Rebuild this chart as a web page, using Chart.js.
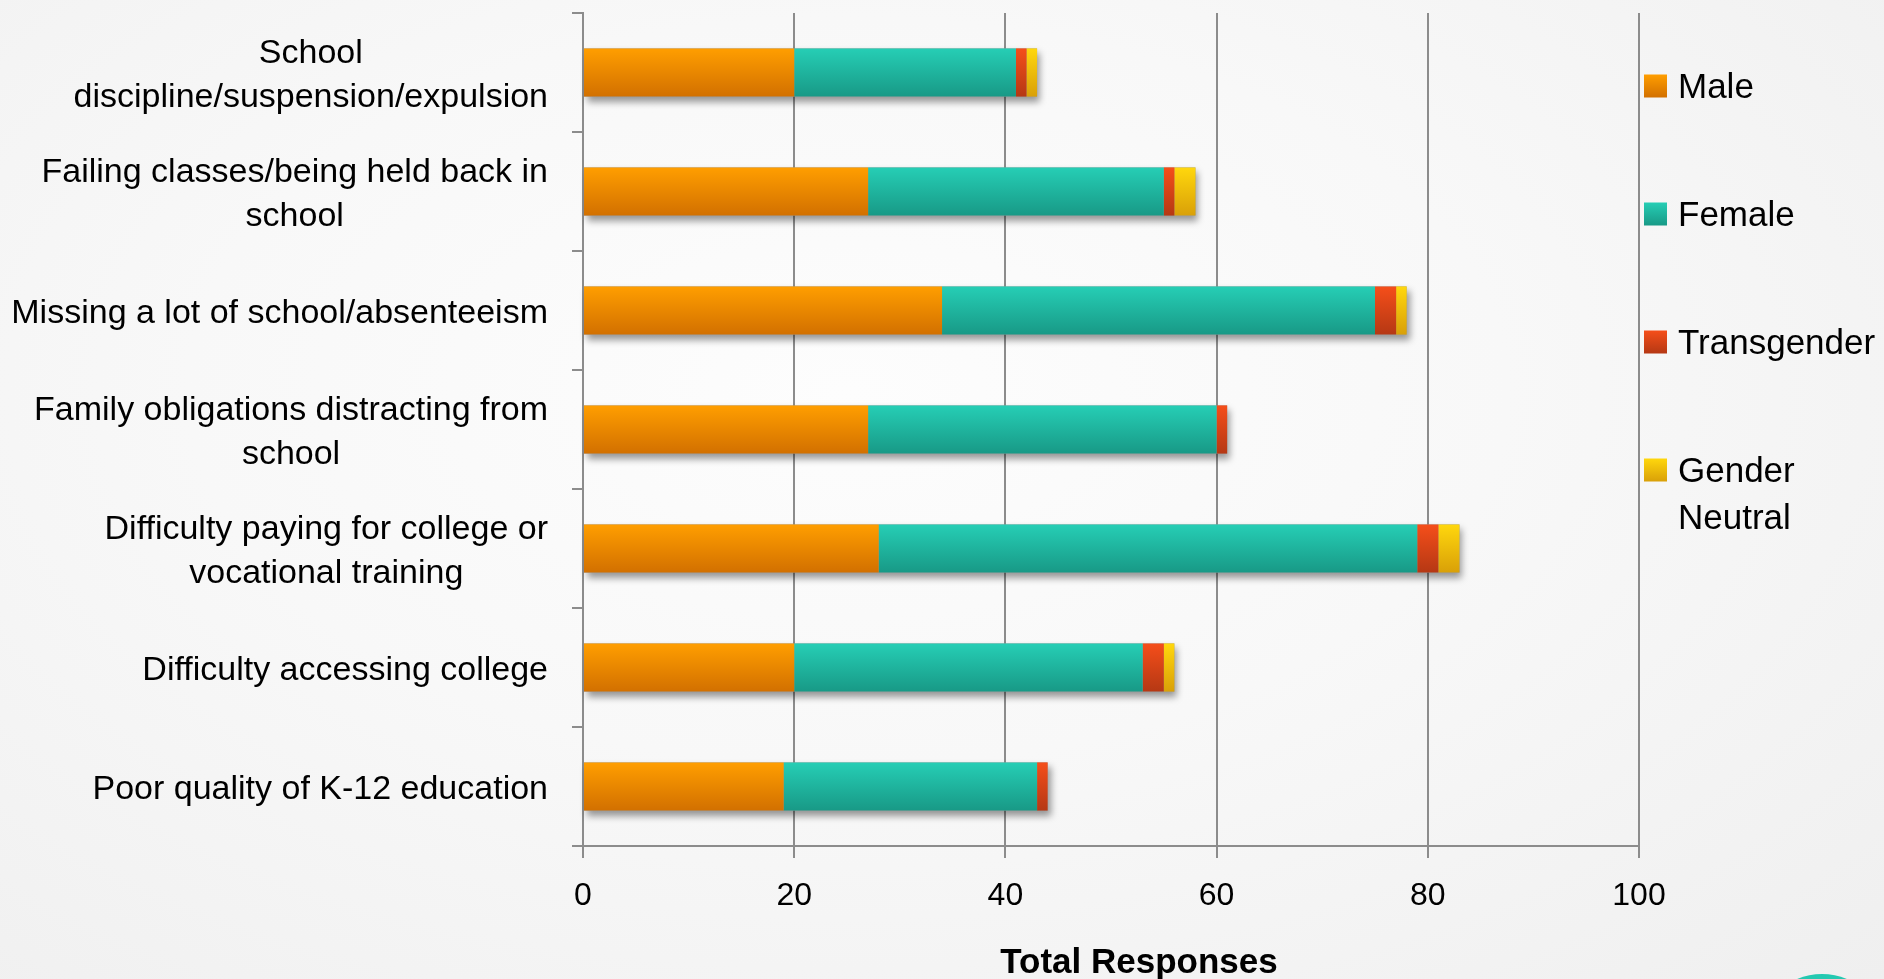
<!DOCTYPE html>
<html>
<head>
<meta charset="utf-8">
<title>Total Responses</title>
<script src="https://cdn.jsdelivr.net/npm/chart.js@4.4.1/dist/chart.umd.min.js"></script>
<style>
  html, body { margin: 0; padding: 0; overflow: hidden; }
  body {
    width: 1884px; height: 979px; position: relative;
    background: radial-gradient(ellipse at 45% 40%, #fdfdfd 0%, #f8f8f8 45%, #efefef 100%);
  }
  #grafico { position: absolute; left: 0; top: 0; }
  .bolinha {
    position: absolute; left: 1757px; top: 974px; width: 130px; height: 130px;
    border-radius: 50%; background: #24c9b1;
  }
</style>
</head>
<body>
<canvas id="grafico" width="1884" height="979"></canvas>
<div class="bolinha"></div>
<script>
// Dados
const categorias = [
  ['School', 'discipline/suspension/expulsion'],
  ['Failing classes/being held back in', 'school'],
  ['Missing a lot of school/absenteeism'],
  ['Family obligations distracting from', 'school'],
  ['Difficulty paying for college or', 'vocational training'],
  ['Difficulty accessing college'],
  ['Poor quality of K-12 education']
];
const male        = [20, 27, 34, 27, 28, 20, 19];
const female      = [21, 28, 41, 33, 51, 33, 24];
const transgender = [1, 1, 2, 1, 2, 2, 1];
const genderNeutral = [1, 2, 1, 0, 2, 1, 0];
const series = ['Male', 'Female', 'Transgender', ['Gender', 'Neutral']];
const xTicks = [0, 20, 40, 60, 80, 100];

// cores: topo e base do degradê
const cores = [
  ['#ff9e00', '#d27000'],
  ['#26ceb5', '#189986'],
  ['#f54e1a', '#b53814'],
  ['#ffd70d', '#d9a008']
];

const FONTE = '"Liberation Sans", Arial, sans-serif';
const CINZA = '#8c8c8c';

function degrade(ctx, y0, y1, par) {
  const g = ctx.createLinearGradient(0, y0, 0, y1);
  g.addColorStop(0, par[0]);
  g.addColorStop(1, par[1]);
  return g;
}

// sombra + degradê nas barras
const barrasPlugin = {
  id: 'barras',
  beforeDatasetsDraw(chart) {
    const ctx = chart.ctx;
    const metas = chart.data.datasets.map((d, i) => chart.getDatasetMeta(i));
    // sombra única por pilha
    categorias.forEach((c, idx) => {
      let ini = Infinity, fim = -Infinity, y = 0, h = 0;
      metas.forEach(m => {
        const el = m.data[idx];
        ini = Math.min(ini, el.base, el.x);
        fim = Math.max(fim, el.base, el.x);
        y = el.y; h = el.height;
      });
      ctx.save();
      ctx.shadowColor = 'rgba(0,0,0,0.4)';
      ctx.shadowBlur = 7;
      ctx.shadowOffsetX = 3;
      ctx.shadowOffsetY = 5;
      ctx.fillStyle = '#999';
      ctx.fillRect(ini, y - h / 2, fim - ini, h);
      ctx.restore();
    });
    // degradê por barra (opções não compartilhadas porque a cor é scriptable)
    metas.forEach((m, i) => {
      m.data.forEach(el => {
        el.options.backgroundColor = degrade(ctx, el.y - el.height / 2, el.y + el.height / 2, cores[i]);
      });
    });
  },
  afterDraw(chart) {
    const ctx = chart.ctx;
    const area = chart.chartArea;
    const yScale = chart.scales.y;

    // rótulos das categorias (linhas centradas, bloco alinhado à direita)
    ctx.save();
    ctx.font = '34px ' + FONTE;
    ctx.fillStyle = '#000';
    ctx.textAlign = 'center';
    ctx.textBaseline = 'middle';
    const alturaLinha = 44.5;
    const direita = area.left - 35;
    categorias.forEach((linhas, i) => {
      const yc = yScale.getPixelForValue(i) + 3;
      const larg = Math.max(...linhas.map(l => ctx.measureText(l).width));
      const xc = direita - larg / 2;
      linhas.forEach((l, j) => {
        ctx.fillText(l, xc, yc - (linhas.length - 1) * alturaLinha / 2 + j * alturaLinha);
      });
    });
    ctx.restore();

    // legenda
    ctx.save();
    ctx.font = '35px ' + FONTE;
    ctx.textAlign = 'left';
    ctx.textBaseline = 'middle';
    series.forEach((s, i) => {
      const yc = area.top + 73 + i * 128;
      const bx = area.right + 5;
      ctx.fillStyle = degrade(ctx, yc - 11.5, yc + 11.5, cores[i]);
      ctx.fillRect(bx, yc - 11.5, 23, 23);
      ctx.fillStyle = '#000';
      const linhas = Array.isArray(s) ? s : [s];
      linhas.forEach((l, j) => ctx.fillText(l, bx + 34, yc + 2 + j * 47.5));
    });
    ctx.restore();

    // título do eixo x
    ctx.save();
    ctx.font = 'bold 35px ' + FONTE;
    ctx.fillStyle = '#000';
    ctx.textAlign = 'center';
    ctx.textBaseline = 'alphabetic';
    ctx.fillText('Total Responses', (area.left + area.right) / 2 + 28, 973);
    ctx.restore();
  }
};

const datasets = [male, female, transgender, genderNeutral].map((valores, i) => ({
  label: Array.isArray(series[i]) ? series[i].join(' ') : series[i],
  data: valores,
  backgroundColor: () => cores[i][0],
  borderWidth: 0,
  categoryPercentage: 1,
  barPercentage: 0.405
}));

new Chart(document.getElementById('grafico').getContext('2d'), {
  type: 'bar',
  data: { labels: categorias.map(c => c.join(' ')), datasets: datasets },
  options: {
    indexAxis: 'y',
    responsive: false,
    animation: false,
    devicePixelRatio: 1,
    layout: { padding: { top: 13, right: 245, left: 0, bottom: 0 } },
    plugins: {
      legend: { display: false },
      tooltip: { enabled: false }
    },
    scales: {
      x: {
        stacked: true,
        min: 0,
        max: 100,
        afterBuildTicks: (scale) => { scale.ticks = xTicks.map(v => ({ value: v })); },
        afterFit: (scale) => { scale.height = 133; },
        grid: { color: CINZA, lineWidth: 2, tickLength: 12 },
        border: { color: CINZA, width: 2 },
        ticks: {
          color: '#000',
          padding: 19,
          font: { family: FONTE, size: 32 }
        }
      },
      y: {
        stacked: true,
        afterFit: (scale) => { scale.width = 583; },
        grid: { color: CINZA, lineWidth: 2, drawOnChartArea: false, tickLength: 11 },
        border: { color: CINZA, width: 2 },
        ticks: { display: false }
      }
    }
  },
  plugins: [barrasPlugin]
});
</script>
</body>
</html>
